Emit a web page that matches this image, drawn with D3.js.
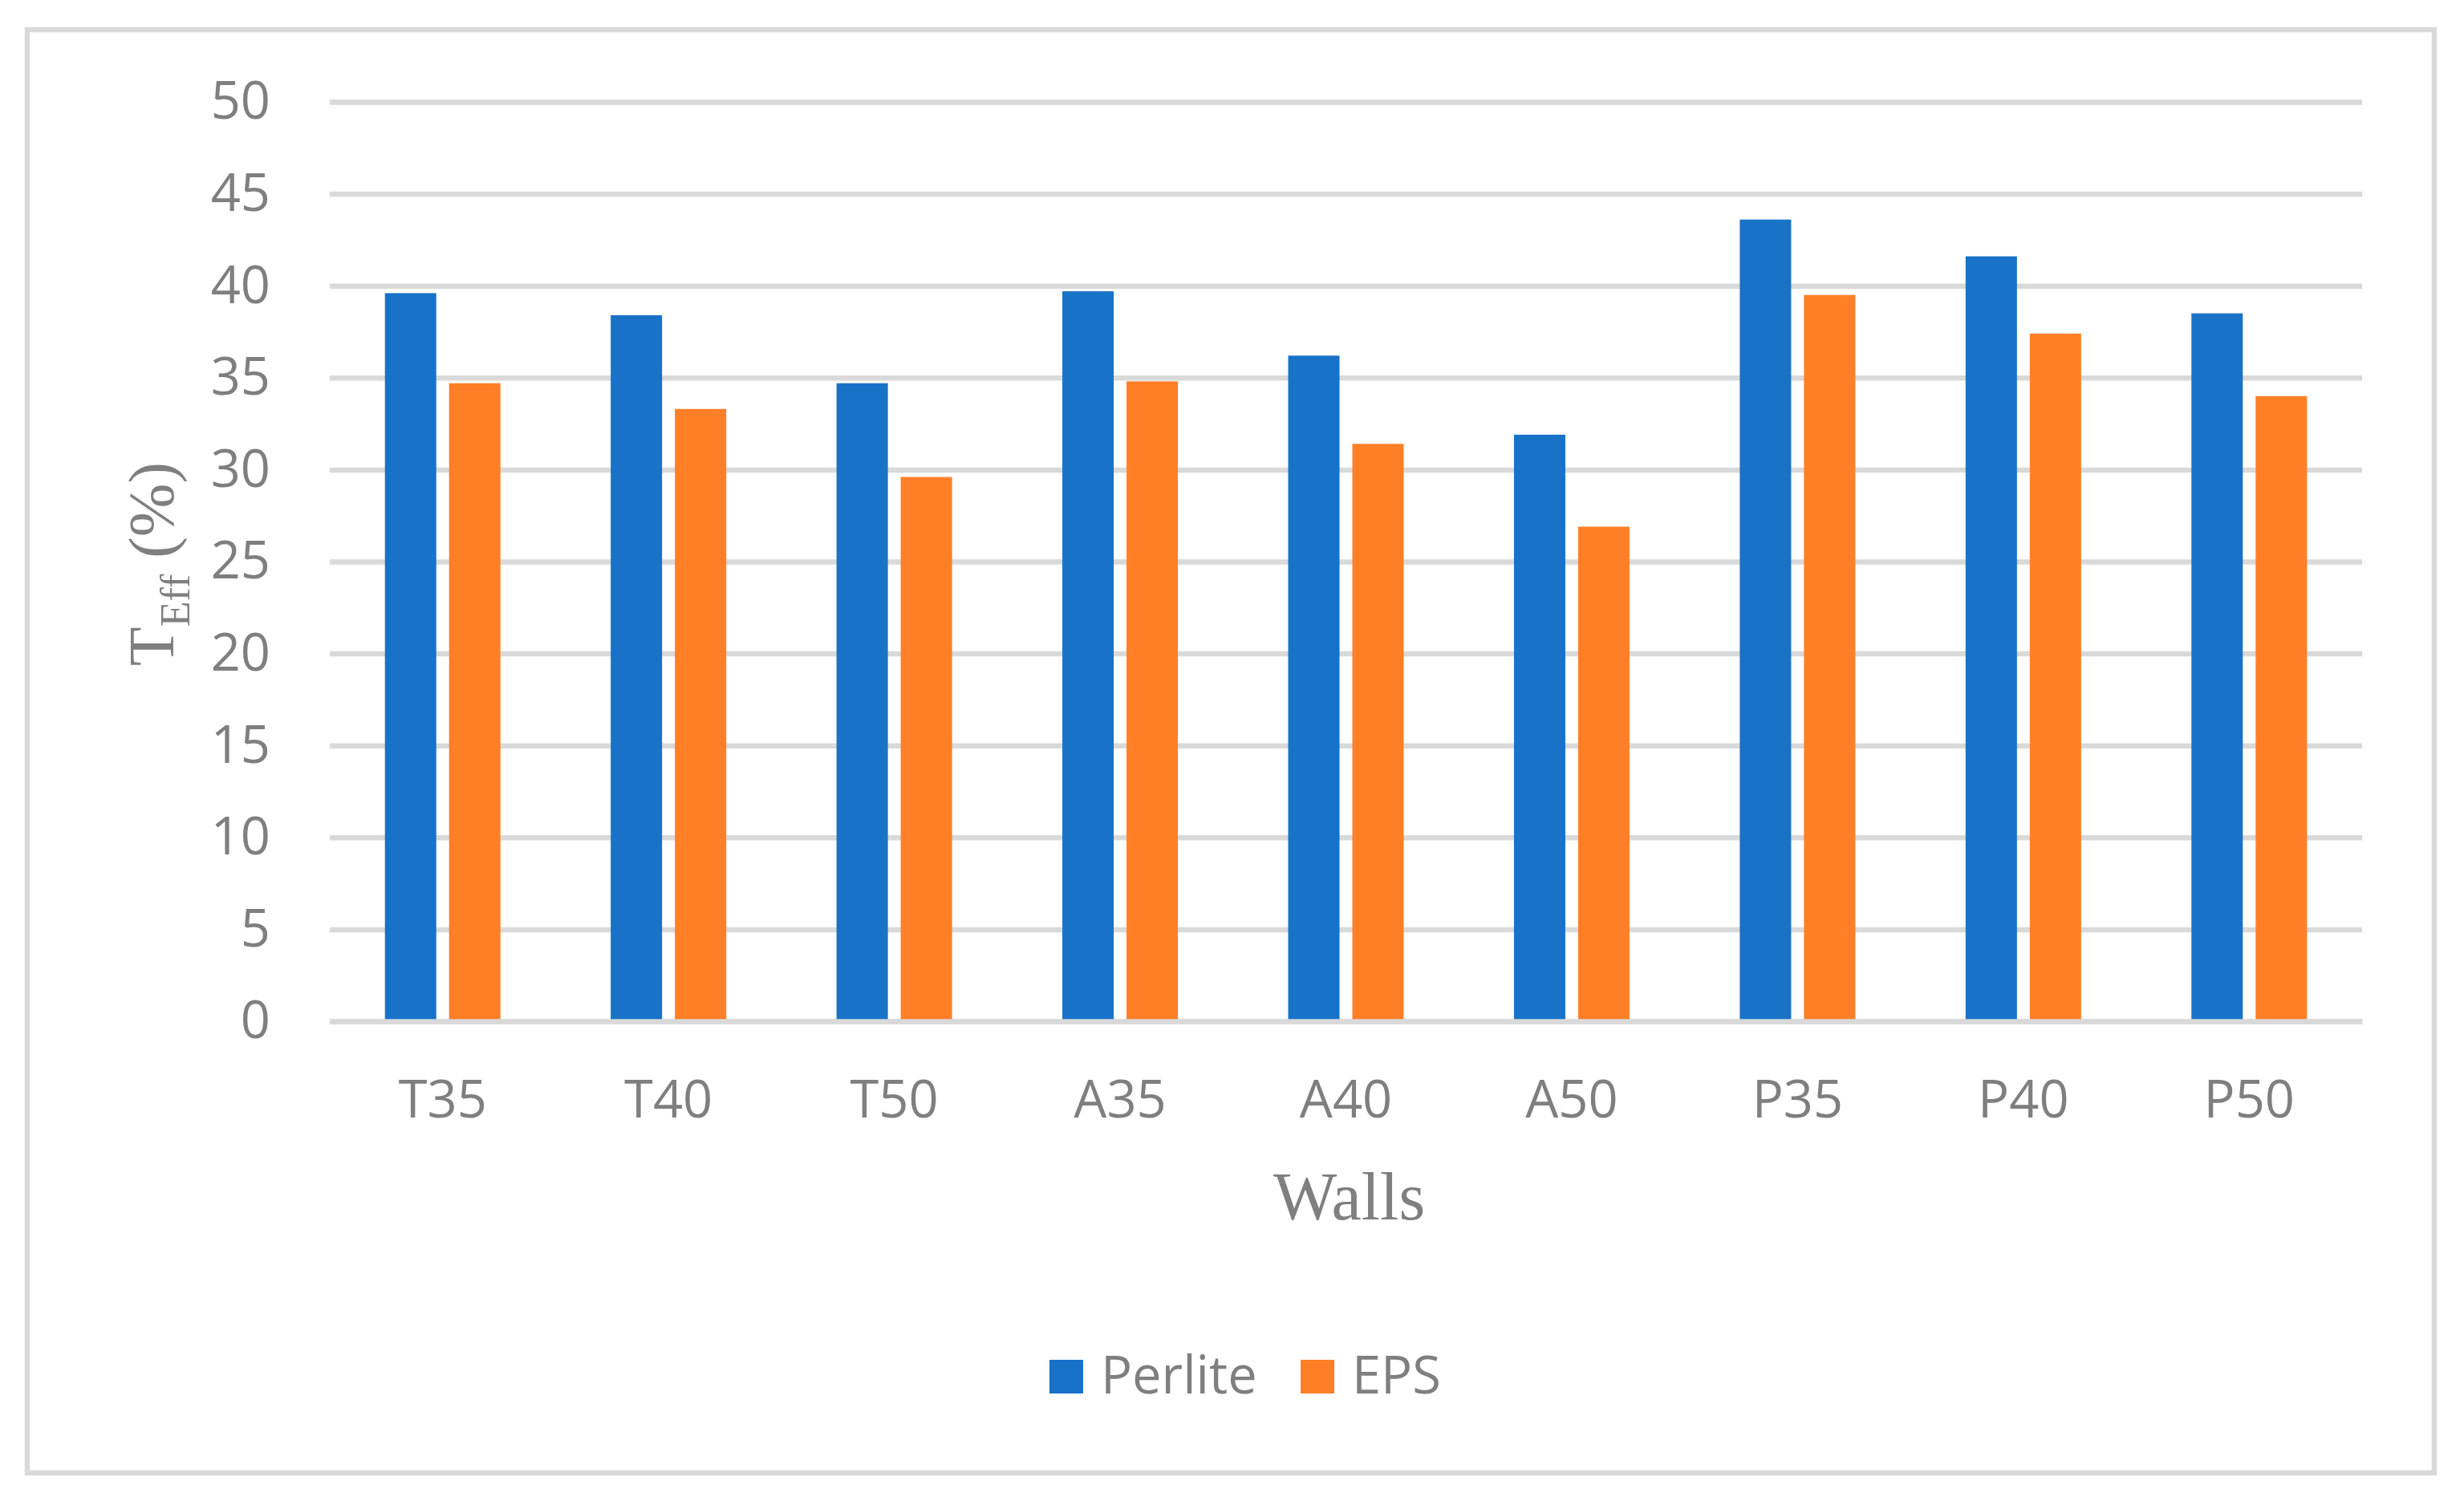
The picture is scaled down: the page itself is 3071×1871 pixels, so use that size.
<!DOCTYPE html>
<html>
<head>
<meta charset="utf-8">
<script src="https://cdn.jsdelivr.net/npm/d3@7"></script>
<style>
  body { margin: 0; background: #fff; }
  svg { display: block; }
</style>
</head>
<body>
<svg id="chart" width="3071" height="1871"></svg>
<script>
// wall types on the x axis
var walls = ['T35', 'T40', 'T50', 'A35', 'A40', 'A50', 'P35', 'P40', 'P50'];
var series = ['Perlite', 'EPS'];
// T_Eff (%)
var perlite = [39.6, 38.4, 34.7, 39.7, 36.2, 31.9, 43.6, 41.6, 38.5];
var eps = [34.7, 33.3, 29.6, 34.8, 31.4, 26.9, 39.5, 37.4, 34.0];
var yTicks = [0, 5, 10, 15, 20, 25, 30, 35, 40, 45, 50];

var colours = { 'Perlite': '#1872c8', 'EPS': '#ff7f27' };
var grey = '#7f7f7f', lineGrey = '#d9d9d9';
var tickFont = '"Open Sans", "Noto Sans", sans-serif';
var serifFont = '"Liberation Serif", "DejaVu Serif", serif';

var rows = walls.map(function(w, i) {
  return { wall: w, 'Perlite': perlite[i], 'EPS': eps[i] };
});

var margin = { left: 411, right: 3071 - 2944, top: 127, bottom: 1871 - 1273 };
var width = 3071 - margin.left - margin.right,
    height = 1871 - margin.top - margin.bottom;

var svg = d3.select('#chart');

// outer frame
svg.append('rect')
  .attr('x', 34).attr('y', 37)
  .attr('width', 3000).attr('height', 1799)
  .attr('fill', '#fff')
  .attr('stroke', lineGrey)
  .attr('stroke-width', 6.5);

var g = svg.append('g')
  .attr('transform', 'translate(' + margin.left + ',' + margin.top + ')');

var x0 = d3.scaleBand().domain(walls).range([0, width]).padding(0);
var cw = x0.bandwidth();
var x1 = d3.scaleBand().domain(series)
  .range([cw / 2 - 72, cw / 2 + 72])
  .paddingInner(0.2);
var y = d3.scaleLinear().domain([0, 50]).range([height, 0]);

// horizontal gridlines + y tick labels
var yAxis = g.append('g')
  .call(d3.axisLeft(y).tickValues(yTicks).tickSize(-width).tickPadding(74));
yAxis.select('.domain').remove();
yAxis.selectAll('line').attr('stroke', lineGrey).attr('stroke-width', 6.5);
yAxis.selectAll('text')
  .attr('fill', grey)
  .style('font-family', tickFont)
  .style('font-size', '65px');

// bars
var groups = g.selectAll('.wall')
  .data(rows)
  .enter().append('g')
  .attr('class', 'wall')
  .attr('transform', function(d) { return 'translate(' + x0(d.wall) + ',0)'; });

groups.selectAll('rect')
  .data(function(d) { return series.map(function(s) { return { key: s, value: d[s] }; }); })
  .enter().append('rect')
  .attr('x', function(d) { return x1(d.key); })
  .attr('width', x1.bandwidth())
  .attr('y', function(d) { return y(d.value); })
  .attr('height', function(d) { return y(0) - y(d.value); })
  .attr('fill', function(d) { return colours[d.key]; });

// category axis, baseline drawn over the bars
var xAxis = g.append('g')
  .attr('transform', 'translate(0,' + height + ')')
  .call(d3.axisBottom(x0).tickSize(0));
xAxis.select('.domain').attr('stroke', lineGrey).attr('stroke-width', 6.5);
xAxis.selectAll('text')
  .attr('fill', grey)
  .attr('y', 120)
  .attr('dy', null)
  .style('font-family', tickFont)
  .style('font-size', '65px');

// axis titles
svg.append('text')
  .attr('x', margin.left + width / 2 + 4)
  .attr('y', 1520)
  .attr('text-anchor', 'middle')
  .attr('fill', grey)
  .style('font-family', serifFont)
  .style('font-size', '84px')
  .text('Walls');

var yt = svg.append('text')
  .attr('transform', 'translate(216,703) rotate(-90)')
  .attr('text-anchor', 'middle')
  .attr('fill', grey)
  .style('font-family', serifFont)
  .style('font-size', '80px');
yt.append('tspan').text('T');
yt.append('tspan').attr('dy', 20).style('font-size', '52px').text('Eff');
yt.append('tspan').attr('dy', -20).text(' (%)');

// legend
var legend = svg.append('g').attr('transform', 'translate(1308,1695)');
var offsets = [0, 313];
var items = legend.selectAll('.item')
  .data(series)
  .enter().append('g')
  .attr('class', 'item')
  .attr('transform', function(d, i) { return 'translate(' + offsets[i] + ',0)'; });
items.append('rect')
  .attr('width', 42).attr('height', 42)
  .attr('fill', function(d) { return colours[d]; });
items.append('text')
  .attr('x', 64).attr('y', 42)
  .attr('fill', grey)
  .style('font-family', tickFont)
  .style('font-size', '65px')
  .text(function(d) { return d; });
</script>
</body>
</html>
